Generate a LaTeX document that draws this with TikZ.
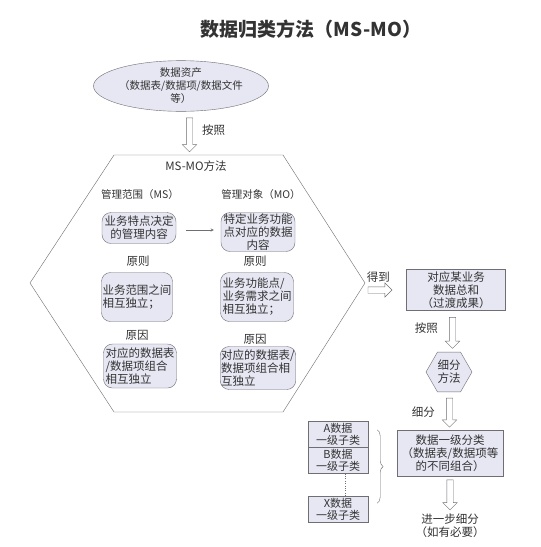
\documentclass[tikz,border=0pt]{standalone}
\usepackage{fontspec}
\setmainfont{Noto Sans CJK SC}
\usepackage{xcolor}
\usepackage{tikz}
\usetikzlibrary{calc, positioning, shapes.geometric, shapes.arrows, decorations.pathreplacing}
\definecolor{boxfill}{RGB}{230,231,243}
\definecolor{edge}{RGB}{110,110,115}
\tikzset{every node/.append style={font=\fontsize{11.5}{13}\selectfont, text=black!80}}

\begin{document}
\begin{tikzpicture}[x=1pt, y=-1pt, >=stealth,
    rbox/.style={draw=edge, fill=boxfill, rounded corners=9pt, inner sep=1pt, align=left},
    sbox/.style={draw=edge, fill=boxfill, inner sep=1pt, align=center},
    hollow/.style={single arrow, draw=edge, fill=white, inner sep=3pt, single arrow head extend=4pt, single arrow head indent=0pt},
    head/.style={font=\fontsize{10.5}{12}\selectfont}]
    \fill[white] (0,0) rectangle (541,547);
    \useasboundingbox (0,0) rectangle (541,547);
    \node[font=\fontsize{19}{22}\selectfont\bfseries] (title) at (311,29) {数据归类方法（MS-MO）};
    \node[ellipse, draw=edge, fill=boxfill, minimum width=165pt, minimum height=42pt, inner sep=0pt, align=center, font=\fontsize{10.5}{13}\selectfont] (asset) at (181,86) {数据资产\\（数据表/数据项/数据文件\\等）};
    \draw[edge] (114,155) coordinate (hexTL) -- (283,155) -- (365,283) coordinate (hexR) -- (283,412) -- (114,412) -- (30,283) -- cycle;
    \coordinate (hexT) at (198,155);
    \path (asset.south) -- node[hollow, rotate=-90, minimum height=34pt] (arrAsset) {} (hexT);
    \node[anchor=west] at ($(arrAsset.center)+(9,-3)$) {按照};
    % MS-MO method
    \node (msmo) at (196,166) {MS-MO方法};
    \node[head] (msHead) at (140,195) {管理范围（MS）};
    \node[head] (moHead) at (261,195) {管理对象（MO）};
    \node[rbox, align=center, minimum width=74pt, minimum height=31pt] (msCont) at (139,228) {业务特点决定\\的管理内容};
    \node[rbox, align=center, minimum width=74pt, minimum height=39pt] (moCont) at (258,232) {特定业务功能\\点对应的数据\\内容};
    \draw[edge, ->] ($(msCont.east)+(10,2)$) -- ($(moCont.west |- msCont.east)+(-7,2)$);
    \node (msRule) at (138,261) {原则};
    \node (moRule) at (255,261) {原则};
    \node[rbox, minimum width=70pt, minimum height=49pt] (msPrin) at (137,297) {业务范围之间\\相互独立；};
    \node[rbox, minimum width=73pt, minimum height=49pt] (moPrin) at (257,297) {业务功能点/\\业务需求之间\\相互独立；};
    \node (msWhy) at (137,335) {原因};
    \node (moWhy) at (255,339) {原因};
    \node[rbox, minimum width=73pt, minimum height=44pt] (msReason) at (140,366) {对应的数据表\\/数据项组合\\相互独立};
    \node[rbox, minimum width=75pt, minimum height=43pt] (moReason) at (258,368) {对应的数据表/\\数据项组合相\\互独立};
    % right column
    \node[sbox, minimum width=99pt, minimum height=41pt] (sumBox) at (456,290) {对应某业务\\数据总和\\（过渡成果）};
    \node[hollow, minimum height=24pt, left=14pt of sumBox.west] (arrGet) {};
    \node[above=1pt of arrGet] {得到};
    \node[regular polygon, regular polygon sides=6, draw=edge, fill=boxfill, minimum size=46pt, inner sep=0pt, align=center] (subHex) at (449,372) {细分\\方法};
    \path (sumBox.south) -- node[hollow, rotate=-90, minimum height=31pt] (arrBy) {} (subHex.north);
    \node[anchor=east] at ($(arrBy.center)+(-11,-3)$) {按照};
    \node[sbox, minimum width=106pt, minimum height=46pt] (catBox) at (450,453) {数据一级分类\\（数据表/数据项等\\的不同组合）};
    \path (subHex.south) -- node[hollow, rotate=-90, minimum height=29pt] (arrSplit) {} (catBox.north);
    \node[anchor=east] at ($(arrSplit.center)+(-11,1)$) {细分};
    \node[align=center, below=34pt of catBox] (further) {进一步细分\\（如有必要）};
    \path (catBox.south) -- node[hollow, rotate=-90, minimum height=30pt] (arrMore) {} (further.north);
    % sub classes
    \node[sbox, minimum width=60pt, minimum height=26pt, font=\fontsize{11}{12}\selectfont] (subA) at (338,434) {A数据\\一级子类};
    \node[sbox, minimum width=60pt, minimum height=26pt, font=\fontsize{11}{12}\selectfont, below=0pt of subA] (subB) {B数据\\一级子类};
    \node[sbox, minimum width=60pt, minimum height=26pt, font=\fontsize{11}{12}\selectfont] (subX) at (338,509) {X数据\\一级子类};
    \draw[edge, dotted] ([xshift=7pt]subB.south) -- ([xshift=7pt]subX.north);
    \draw[edge, decorate, decoration={brace, amplitude=6pt}] ([xshift=9pt, yshift=-9pt]subA.north east) -- ([xshift=9pt, yshift=19pt]subX.south east);
\end{tikzpicture}
\end{document}
